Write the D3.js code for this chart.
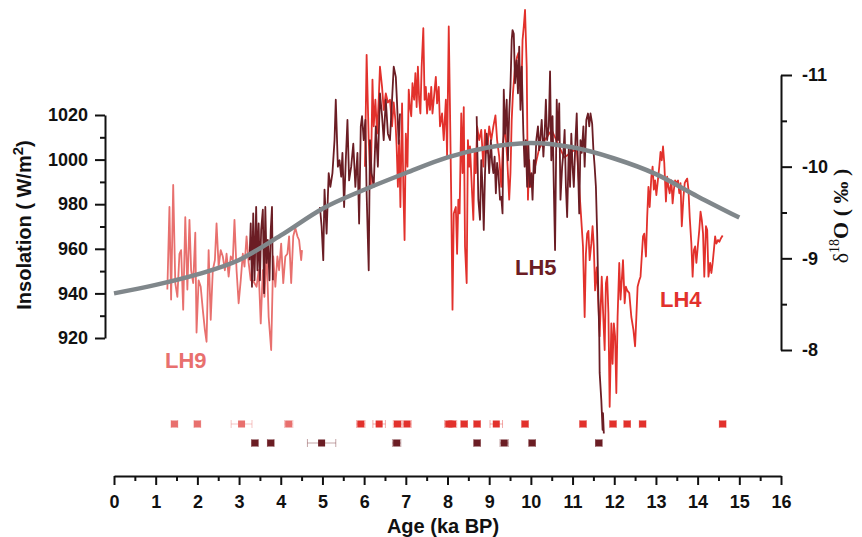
<!DOCTYPE html>
<html>
<head>
<meta charset="utf-8">
<script src="https://cdn.jsdelivr.net/npm/d3@7"></script>
<style>
  body { margin: 0; background: #fff; }
  text { font-family: Arial, "Liberation Sans", sans-serif; font-weight: bold; }
</style>
</head>
<body>
<div id="container"></div>
<script>
/* DATA */
// insolation (W/m2) by age (ka BP)
const insolAges = [0, 1, 2, 3, 4, 5, 6, 7, 8, 9, 10, 11, 12, 13, 14, 15];
const insolValues = [940, 943.8, 948.5, 955, 966, 978, 986.5, 994, 1001, 1005.5, 1007.5, 1005.5, 1000.5, 993.5, 983.5, 974];

// d18O records [age, d18O]
const lh9 = [[1.28,-8.66],[1.33,-9.56],[1.37,-8.55],[1.42,-9.80],[1.47,-8.73],[1.52,-8.58],[1.57,-9.05],[1.61,-9.09],[1.66,-8.44],[1.71,-9.45],[1.76,-8.66],[1.81,-9.42],[1.85,-8.87],[1.90,-8.73],[1.95,-9.28],[1.98,-8.19],[2.03,-8.76],[2.08,-8.69],[2.13,-8.44],[2.18,-8.22],[2.22,-8.09],[2.27,-9.09],[2.32,-8.33],[2.37,-8.87],[2.42,-8.98],[2.46,-9.38],[2.51,-8.91],[2.56,-9.09],[2.61,-9.02],[2.66,-8.87],[2.70,-9.05],[2.75,-8.80],[2.80,-9.02],[2.85,-8.98],[2.89,-9.42],[2.94,-8.87],[2.99,-8.51],[3.04,-8.76],[3.09,-9.05],[3.13,-8.91],[3.18,-9.24],[3.23,-8.95],[3.28,-8.76],[3.33,-8.76],[3.42,-8.69],[3.47,-8.87],[3.52,-8.29],[3.57,-8.87],[3.61,-8.58],[3.66,-9.09],[3.71,-8.36],[3.77,-8.0],[3.82,-9.02],[3.87,-8.69],[3.92,-9.02],[3.96,-8.87],[4.01,-9.16],[4.06,-8.73],[4.11,-9.02],[4.16,-9.05],[4.20,-9.24],[4.25,-8.73],[4.30,-9.24],[4.35,-9.33],[4.40,-9.24],[4.44,-9.20],[4.49,-8.98],[4.51,-9.09]];

const lh5 = [[3.25,-8.98],[3.28,-9.38],[3.31,-8.69],[3.34,-9.49],[3.37,-8.76],[3.41,-9.56],[3.44,-8.87],[3.47,-9.38],[3.50,-8.76],[3.53,-9.31],[3.57,-9.53],[3.60,-8.62],[3.63,-9.56],[3.66,-8.95],[3.69,-9.20],[3.73,-8.76],[3.76,-9.31],[3.79,-9.56],[3.81,-8.76],
  [4.4,null],
  [4.94,-9.56],[4.98,-9.35],[5.02,-8.98],[5.05,-9.75],[5.10,-9.27],[5.15,-9.93],[5.19,-9.78],[5.24,-9.93],[5.29,-10.29],[5.32,-10.73],[5.37,-10.0],[5.41,-10.07],[5.45,-9.89],[5.48,-10.15],[5.52,-9.56],[5.56,-10.07],[5.60,-10.51],[5.64,-9.85],[5.69,-10.0],[5.74,-10.25],[5.79,-9.78],[5.84,-10.15],[5.88,-9.38],[5.92,-10.44],[5.95,-10.55],[5.99,-10.29],[6.03,-10.51],[6.06,-9.71],[6.11,-8.87],[6.14,-10.29],[6.18,-9.93],[6.23,-9.78],[6.28,-10.44],[6.33,-10.0],[6.38,-10.80],[6.43,-10.55],[6.47,-10.29],[6.52,-10.73],[6.57,-10.36],[6.62,-10.29],[6.67,-10.73],[6.71,-11.09],[6.76,-10.98],[6.79,-10.69],[6.83,-10.25],[6.86,-10.58],
  [7.8,null],
  [8.70,-10.55],[8.74,-9.64],[8.78,-9.42],[8.81,-10.07],[8.84,-9.78],[8.87,-9.31],[8.90,-9.93],[8.94,-10.36],[8.97,-10.18],[9.00,-9.93],[9.04,-10.29],[9.07,-10.04],[9.10,-9.93],[9.13,-10.11],[9.16,-9.71],[9.19,-10.04],[9.22,-9.93],[9.26,-9.64],[9.29,-9.67],[9.32,-9.49],[9.35,-10.84],[9.38,-10.36],[9.42,-10.73],[9.45,-10.07],[9.48,-10.58],[9.51,-10.87],[9.54,-11.38],[9.56,-11.49],[9.59,-11.45],[9.62,-10.91],[9.66,-11.16],[9.69,-10.80],[9.72,-11.31],[9.75,-10.62],[9.78,-11.09],[9.82,-10.36],[9.85,-10.0],[9.88,-10.29],[9.91,-9.78],[9.94,-10.25],[9.97,-9.78],[10.01,-9.93],[10.04,-9.64],[10.07,-10.07],[10.10,-9.93],[10.13,-10.29],[10.17,-10.44],[10.20,-10.18],[10.23,-10.33],[10.26,-10.51],[10.30,-10.11],[10.33,-10.36],[10.36,-10.73],[10.39,-10.29],[10.43,-10.44],[10.46,-11.04],[10.49,-10.07],[10.52,-10.55],[10.55,-9.78],[10.58,-9.09],[10.62,-10.73],[10.65,-10.29],[10.68,-10.69],[10.71,-9.64],[10.75,-10.0],[10.78,-10.15],[10.81,-10.40],[10.84,-9.78],[10.87,-9.45],[10.91,-10.22],[10.94,-9.78],[10.97,-10.36],[11.00,-10.0],[11.03,-9.78],[11.07,-10.29],[11.10,-10.58],[11.13,-10.0],[11.16,-9.49],[11.19,-10.29],[11.22,-10.15],[11.26,-10.44],[11.29,-10.0],[11.33,-10.51],[11.37,-10.58],[11.40,-10.44],[11.43,-10.58],[11.47,-10.47],[11.50,-10.18],[11.53,-10.0],[11.56,-9.78],[11.59,-9.27],[11.62,-8.55],[11.64,-8.18],[11.65,-7.75],[11.69,-7.45],[11.72,-7.13],[11.73,-7.31],[11.75,-7.09]];

const lh4 = [[6.02,-10.0],[6.06,-11.22],[6.11,-10.29],[6.16,-9.78],[6.20,-10.95],[6.23,-10.44],[6.27,-10.73],[6.31,-10.36],[6.35,-10.73],[6.38,-11.09],[6.43,-10.87],[6.47,-10.62],[6.52,-10.80],[6.57,-10.70],[6.62,-10.73],[6.67,-10.44],[6.71,-10.70],[6.75,-10.51],[6.78,-10.22],[6.81,-9.78],[6.84,-10.29],[6.87,-9.56],[6.91,-10.69],[6.94,-9.78],[6.97,-9.20],[7.00,-10.36],[7.04,-10.0],[7.07,-10.84],[7.10,-10.65],[7.13,-10.55],[7.16,-10.91],[7.20,-10.73],[7.23,-11.02],[7.26,-10.65],[7.29,-11.09],[7.32,-10.73],[7.35,-10.58],[7.38,-11.09],[7.42,-11.51],[7.45,-10.73],[7.48,-10.87],[7.51,-10.58],[7.55,-10.80],[7.58,-10.62],[7.61,-10.87],[7.64,-10.58],[7.67,-10.73],[7.72,-10.98],[7.75,-10.69],[7.79,-10.87],[7.82,-10.44],[7.87,-10.58],[7.91,-10.29],[7.96,-10.73],[7.99,-10.11],[8.03,-11.53],[8.06,-10.62],[8.09,-9.64],[8.12,-8.44],[8.15,-9.49],[8.20,-9.56],[8.23,-9.05],[8.26,-9.64],[8.29,-9.49],[8.33,-10.58],[8.36,-9.93],[8.39,-10.65],[8.42,-9.13],[8.46,-8.73],[8.49,-10.29],[8.52,-10.0],[8.54,-10.22],[8.59,-9.71],[8.62,-9.42],[8.65,-10.18],[8.68,-9.93],[8.71,-10.44],[8.76,-10.29],[8.81,-10.40],[8.86,-10.0],[8.90,-10.40],[8.95,-10.15],[9.00,-10.44],[9.05,-10.29],[9.10,-10.44],[9.15,-10.56],[9.19,-10.29],[9.24,-10.11],[9.29,-9.78],[9.33,-10.25],[9.38,-10.44],[9.43,-10.11],[9.48,-9.64],[9.51,-9.93],[9.54,-10.51],[9.57,-10.80],[9.62,-11.09],[9.67,-11.20],[9.70,-11.24],[9.73,-11.05],[9.77,-10.73],[9.80,-11.38],[9.83,-11.53],[9.86,-11.71],[9.90,-11.09],[9.93,-9.64],[9.96,-10.07],[9.99,-9.78],[10.2,-10.2],[10.5,-10.4],[10.8,-10.1],[11.1,-10.2],[11.25,-9.13],[11.29,-8.36],[11.32,-9.05],[11.35,-9.27],[11.38,-9.30],[11.41,-8.98],[11.45,-9.16],[11.48,-9.35],[11.51,-9.13],[11.54,-8.65],[11.58,-8.90],[11.62,-8.50],[11.65,-8.15],[11.70,-8.80],[11.73,-8.44],[11.77,-8.0],[11.80,-8.73],[11.83,-8.80],[11.86,-8.40],[11.89,-7.38],[11.93,-8.29],[11.96,-7.85],[11.99,-8.29],[12.02,-8.15],[12.05,-7.53],[12.08,-8.36],[12.12,-8.95],[12.15,-8.55],[12.18,-8.76],[12.21,-8.98],[12.25,-8.51],[12.28,-8.69],[12.31,-8.65],[12.36,-8.62],[12.41,-8.36],[12.46,-8.22],[12.50,-8.04],[12.53,-8.36],[12.56,-8.69],[12.60,-8.76],[12.63,-8.80],[12.66,-9.02],[12.69,-9.24],[12.72,-9.27],[12.76,-9.02],[12.79,-9.45],[12.82,-9.78],[12.85,-9.56],[12.89,-9.89],[12.92,-10.0],[12.95,-9.75],[12.98,-9.85],[13.01,-9.69],[13.04,-9.82],[13.08,-10.0],[13.11,-10.16],[13.14,-10.07],[13.17,-10.22],[13.20,-10.04],[13.24,-9.62],[13.27,-9.89],[13.30,-9.78],[13.33,-9.71],[13.37,-9.85],[13.40,-9.60],[13.43,-9.75],[13.46,-9.85],[13.49,-9.82],[13.53,-9.85],[13.56,-9.71],[13.59,-9.82],[13.62,-9.35],[13.66,-9.67],[13.69,-9.82],[13.72,-9.85],[13.75,-9.87],[13.78,-9.75],[13.81,-9.45],[13.85,-9.16],[13.88,-8.80],[13.91,-9.09],[13.94,-9.13],[13.97,-8.95],[14.01,-9.16],[14.04,-9.31],[14.07,-9.51],[14.10,-9.42],[14.13,-9.27],[14.16,-8.80],[14.20,-9.35],[14.23,-9.31],[14.26,-8.80],[14.30,-8.95],[14.33,-8.84],[14.36,-8.95],[14.39,-9.09],[14.42,-9.24],[14.45,-9.16],[14.49,-9.20],[14.52,-9.18],[14.56,-9.22],[14.60,-9.25]];

// U-Th dates: age, 2-sigma error, record
const topDates = [1.45, 2.0, 3.06, 4.19, 5.92, 6.36, 6.80, 7.03, 8.03, 8.12, 8.40, 8.71, 9.17, 9.86, 11.25, 11.97, 12.31, 12.68, 14.60];
const topErrors = [0.08, 0.08, 0.25, 0.1, 0.1, 0.15, 0.1, 0.1, 0.1, 0.1, 0.08, 0.08, 0.15, 0.08, 0.08, 0.08, 0.08, 0.08, 0.08];
const topRecords = ["LH9", "LH9", "LH9", "LH9", "LH4", "LH4", "LH4", "LH4", "LH4", "LH4", "LH4", "LH4", "LH4", "LH4", "LH4", "LH4", "LH4", "LH4", "LH4"];
const bottomDates = [3.38, 3.76, 4.98, 6.78, 8.71, 9.36, 10.03, 11.63];
const bottomErrors = [0.08, 0.08, 0.34, 0.1, 0.08, 0.1, 0.08, 0.08];

const ageTicks = [0, 1, 2, 3, 4, 5, 6, 7, 8, 9, 10, 11, 12, 13, 14, 15, 16];
const ageMinor = [0.5, 1.5, 2.5, 3.5, 4.5, 5.5, 6.5, 7.5, 8.5, 9.5, 10.5, 11.5, 12.5, 13.5, 14.5, 15.5];
const insolTicks = [920, 940, 960, 980, 1000, 1020];
const insolMinor = [930, 950, 970, 990, 1010];
const d18Ticks = [-11, -10, -9, -8];
const d18Minor = [-10.5, -9.5, -8.5];

/* CONSTANTS */
const width = 862, height = 537;
const colors = { LH9: "#e8706e", LH5: "#6b1d24", LH4: "#e2312c", insol: "#80878b" };

const svg = d3.select("#container").append("svg")
  .attr("width", width).attr("height", height);

/* SCALES */
const xScale = d3.scaleLinear().domain([0, 16]).range([114, 781]);
const yLeft = d3.scaleLinear().domain([920, 1020]).range([338, 115]);
const yRight = d3.scaleLinear().domain([-8, -11]).range([350, 75]);
const rowScale = d3.scalePoint().domain(["top", "bottom"]).range([424, 443]);

/* AXES */
function styleAxis(g) {
  g.select(".domain").attr("stroke", "#111").attr("stroke-width", 2);
  g.selectAll(".tick line").attr("stroke", "#111").attr("stroke-width", 2);
  g.selectAll(".tick text").attr("fill", "#111").style("font-size", "18px").style("font-weight", "bold")
    .style("font-family", "Arial, 'Liberation Sans', sans-serif");
}

// x axis
const xg = svg.append("g").attr("transform", "translate(0,476)")
  .call(d3.axisBottom(xScale).tickValues(ageTicks).tickSize(9).tickSizeOuter(0).tickPadding(10).tickFormat(d3.format("d")));
styleAxis(xg);
svg.append("g").attr("transform", "translate(0,476)")
  .call(d3.axisBottom(xScale).tickValues(ageMinor).tickSize(5).tickFormat(""))
  .call(g => g.select(".domain").remove())
  .selectAll("line").attr("stroke", "#111").attr("stroke-width", 2);

// left axis
const lg = svg.append("g").attr("transform", "translate(105,0)")
  .call(d3.axisLeft(yLeft).tickValues(insolTicks).tickSize(10).tickSizeOuter(0).tickPadding(7).tickFormat(d3.format("d")));
styleAxis(lg);
svg.append("g").attr("transform", "translate(105,0)")
  .call(d3.axisLeft(yLeft).tickValues(insolMinor).tickSize(5).tickFormat(""))
  .call(g => g.select(".domain").remove())
  .selectAll("line").attr("stroke", "#111").attr("stroke-width", 2);

// right axis
const rg = svg.append("g").attr("transform", "translate(781,0)")
  .call(d3.axisRight(yRight).tickValues(d18Ticks).tickSize(11).tickSizeOuter(0).tickPadding(10).tickFormat(d => String(d)));
styleAxis(rg);
svg.append("g").attr("transform", "translate(781,0)")
  .call(d3.axisRight(yRight).tickValues(d18Minor).tickSize(6).tickFormat(""))
  .call(g => g.select(".domain").remove())
  .selectAll("line").attr("stroke", "#111").attr("stroke-width", 2);

// axis titles
svg.append("text").attr("x", 443).attr("y", 533).attr("text-anchor", "middle")
  .style("font-size", "20px").attr("fill", "#111").text("Age (ka BP)");

const lt = svg.append("text").attr("transform", "translate(31,225) rotate(-90)")
  .attr("text-anchor", "middle").style("font-size", "20px").attr("fill", "#111");
lt.append("tspan").text("Insolation ( W/m");
lt.append("tspan").attr("dy", -8).style("font-size", "15px").text("2");
lt.append("tspan").attr("dy", 8).text(")");

const rt = svg.append("text").attr("transform", "translate(848,216) rotate(-90)")
  .attr("text-anchor", "middle").style("font-size", "22px").attr("fill", "#111")
  .style("font-family", "'Liberation Serif', 'Times New Roman', serif").style("font-weight", "normal");
rt.append("tspan").text("δ");
rt.append("tspan").attr("dy", -9).style("font-size", "14px").text("18");
rt.append("tspan").attr("dy", 9).style("font-weight", "bold").text("O ( ‰ )");

/* LINES */
const d18Line = d3.line()
  .defined(d => d[1] !== null)
  .x(d => xScale(d[0]))
  .y(d => yRight(d[1]));

svg.append("path").datum(lh9).attr("d", d18Line)
  .attr("fill", "none").attr("stroke", colors.LH9).attr("stroke-width", 1.8).attr("stroke-linejoin", "round");
svg.append("path").datum(lh4).attr("d", d18Line)
  .attr("fill", "none").attr("stroke", colors.LH4).attr("stroke-width", 1.8).attr("stroke-linejoin", "round");
svg.append("path").datum(lh5).attr("d", d18Line)
  .attr("fill", "none").attr("stroke", colors.LH5).attr("stroke-width", 1.8).attr("stroke-linejoin", "round");

const insolLine = d3.line()
  .x((d, i) => xScale(insolAges[i]))
  .y(d => yLeft(d))
  .curve(d3.curveMonotoneX);
svg.append("path").datum(insolValues).attr("d", insolLine)
  .attr("fill", "none").attr("stroke", colors.insol).attr("stroke-width", 4.5);

/* DATES */
const dates = topDates.map((a, i) => ({ age: a, err: topErrors[i], rec: topRecords[i], row: "top" }))
  .concat(bottomDates.map((a, i) => ({ age: a, err: bottomErrors[i], rec: "LH5", row: "bottom" })));

const dg = svg.selectAll(".date").data(dates).join("g").attr("class", "date");
dg.append("line")
  .attr("x1", d => xScale(d.age - d.err)).attr("x2", d => xScale(d.age + d.err))
  .attr("y1", d => rowScale(d.row)).attr("y2", d => rowScale(d.row))
  .attr("stroke", d => colors[d.rec]).attr("stroke-opacity", 0.4).attr("stroke-width", 1);
dg.selectAll(".cap").data(d => [d.age - d.err, d.age + d.err].map(v => ({ v, d })))
  .join("line").attr("class", "cap")
  .attr("x1", e => xScale(e.v)).attr("x2", e => xScale(e.v))
  .attr("y1", e => rowScale(e.d.row) - 4).attr("y2", e => rowScale(e.d.row) + 4)
  .attr("stroke", e => colors[e.d.rec]).attr("stroke-opacity", 0.4).attr("stroke-width", 1);
dg.append("rect")
  .attr("x", d => xScale(d.age) - 3.5).attr("y", d => rowScale(d.row) - 3.5)
  .attr("width", 7).attr("height", 7)
  .attr("fill", d => colors[d.rec]);

/* LABELS */
svg.append("text").attr("x", 165).attr("y", 368).style("font-size", "22px").attr("fill", colors.LH9).text("LH9");
svg.append("text").attr("x", 515).attr("y", 275).style("font-size", "22px").attr("fill", colors.LH5).text("LH5");
svg.append("text").attr("x", 660).attr("y", 307).style("font-size", "22px").attr("fill", colors.LH4).text("LH4");
</script>
</body>
</html>
